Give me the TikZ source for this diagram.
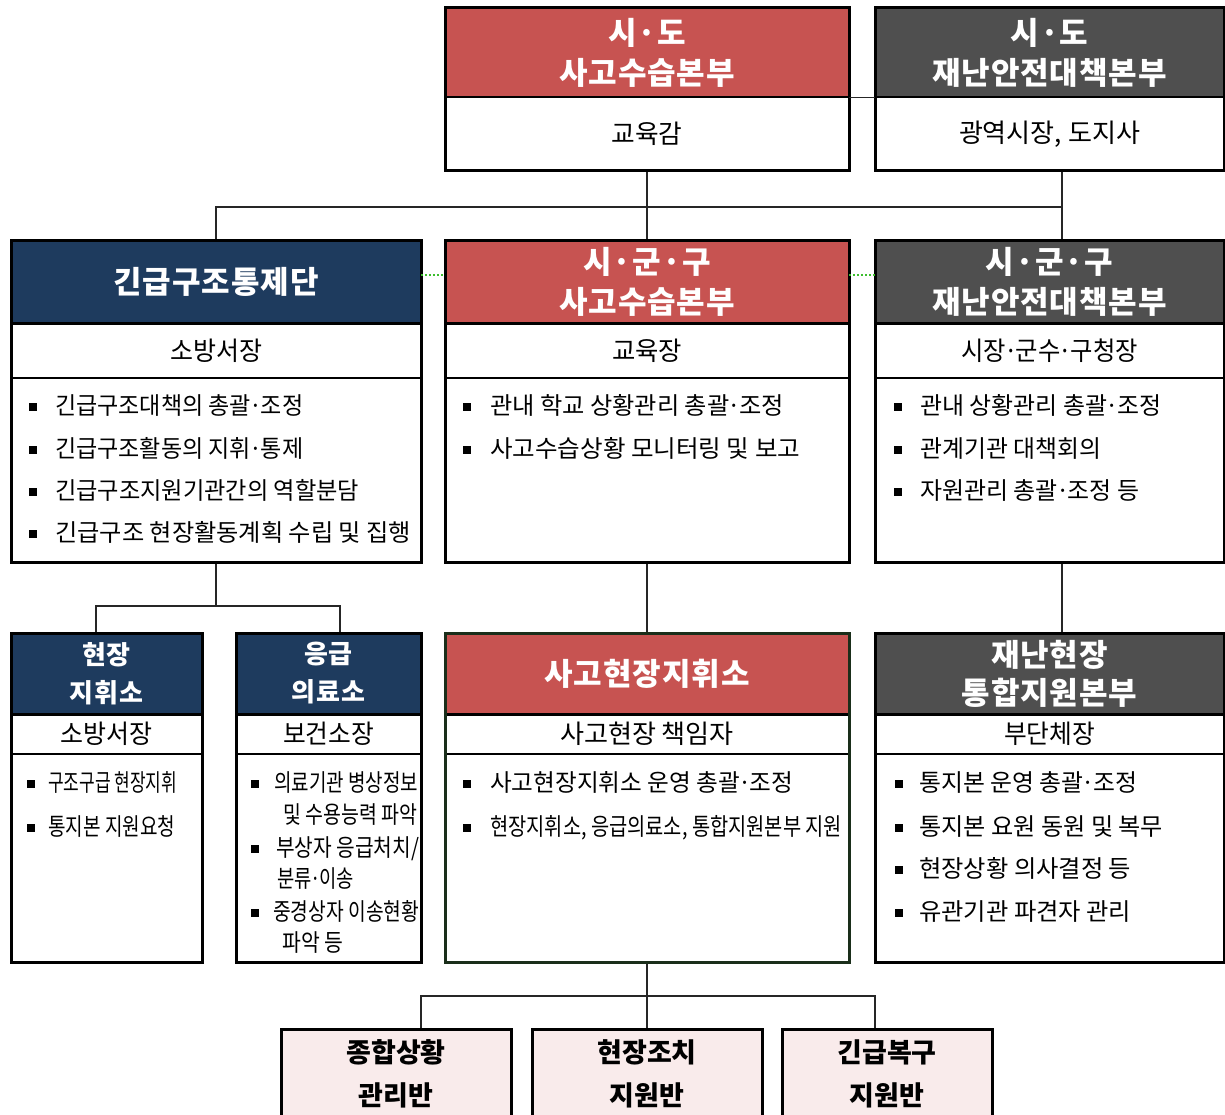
\documentclass[tikz,border=0pt]{standalone}
\usepackage{fontspec}
\usepackage{graphicx}
\newfontfamily\kr{Noto Sans CJK KR}
\newfontfamily\krh[LetterSpace=3]{Noto Sans CJK KR}
\definecolor{cred}{HTML}{C75351}
\definecolor{cgray}{HTML}{4F4F4F}
\definecolor{cnavy}{HTML}{1E3B5E}
\definecolor{cpink}{HTML}{F9EBEB}
\definecolor{cgreen}{HTML}{3DBE2E}
\definecolor{cdkgreen}{HTML}{1A2E1A}
\newcommand\tw[2]{\resizebox{#1pt}{\height}{#2}}
\newcommand\bsq{\rule[3pt]{8pt}{8pt}}
\newcommand\itm[3]{\bsq\hspace{#1pt}\tw{#2}{#3}}
\newcommand\md{\kern-0.07em·\kern-0.07em}
\begin{document}
\begin{tikzpicture}[x=1pt,y=-1pt,
  hd/.style={inner sep=0, text=white, font=\krh\bfseries\fontsize{31}{40}\selectfont, align=center},
  hdsm/.style={inner sep=0, text=white, font=\krh\bfseries\fontsize{26}{38}\selectfont, align=center},
  sub/.style={inner sep=0, font=\kr\fontsize{26}{30}\selectfont},
  itm/.style={inner sep=0, anchor=west, font=\kr\fontsize{24}{28}\selectfont, text height=21pt, text depth=3pt},
  frame/.style={draw=black, line width=3pt, inner sep=0},
  divA/.style={line width=2.6pt},
  divB/.style={line width=2pt},
  conn/.style={line width=1.2pt, draw=black!85},
  link/.style={draw=cgreen, line width=2.6pt, dash pattern=on 2.2pt off 1.8pt},
  lowbox/.style={draw=black, line width=3pt, fill=cpink, inner sep=0},
  lowtxt/.style={inner sep=0, font=\kr\bfseries\fontsize{27}{43}\selectfont, align=center}
]
\clip (0,0) rectangle (1225,1115);
\fill[white] (0,0) rectangle (1225,1115);

% ---------- top row ----------
\node[hd, fill=cred, minimum width=404pt, minimum height=89pt] (Ah) at (647,52.5) {시·도\\사고수습본부};
\node[sub] (Ab) at (647,134) {\tw{71}{교육감}};
\draw[divA] (Ah.south west) -- (Ah.south east);
\node[frame, minimum width=404pt, minimum height=163pt] (A) at (647,89.5) {};

\node[hd, fill=cgray, minimum width=349pt, minimum height=89pt] (Bh) at (1049.5,52.5) {시·도\\재난안전대책본부};
\node[sub] (Bb) at (1049.5,134) {\tw{181}{광역시장, 도지사}};
\draw[divA] (Bh.south west) -- (Bh.south east);
\node[frame, minimum width=349pt, minimum height=163pt] (B) at (1049.5,89.5) {};

% ---------- second row ----------
\node[hd, fill=cnavy, minimum width=410pt, minimum height=82pt] (Ch) at (216,282) {긴급구조통제단};
\node[sub] (Cb) at (216,350.5) {\tw{92}{소방서장}};
\draw[divA] (Ch.south west) -- (Ch.south east);
\draw[divB] (11,378) -- (421,378);
\node[itm] (c1) at (29,405) {\itm{18}{248}{긴급구조대책의 총괄\md 조정}};
\node[itm] (c2) at (29,448) {\itm{18}{248}{긴급구조활동의 지휘\md 통제}};
\node[itm] (c3) at (29,490) {\itm{18}{304}{긴급구조지원기관간의 역할분담}};
\node[itm] (c4) at (29,532) {\itm{18}{356}{긴급구조 현장활동계획 수립 및 집행}};
\node[frame, minimum width=410pt, minimum height=321pt] (C) at (216,401.5) {};

\node[hd, fill=cred, minimum width=404pt, minimum height=82pt] (Dh) at (647,282) {시·군·구\\사고수습본부};
\node[sub] (Db) at (647,350.5) {\tw{70}{교육장}};
\draw[divA] (Dh.south west) -- (Dh.south east);
\draw[divB] (445,378) -- (849,378);
\node[itm] (d1) at (463,405) {\itm{19}{294}{관내 학교 상황관리 총괄\md 조정}};
\node[itm] (d2) at (463,448) {\itm{19}{310}{사고수습상황 모니터링 및 보고}};
\node[frame, minimum width=404pt, minimum height=321pt] (D) at (647,401.5) {};

\node[hd, fill=cgray, minimum width=349pt, minimum height=82pt] (Eh) at (1049.5,282) {시·군·구\\재난안전대책본부};
\node[sub] (Eb) at (1049.5,351) {\tw{177}{시장\md 군수\md 구청장}};
\draw[divA] (Eh.south west) -- (Eh.south east);
\draw[divB] (875,378) -- (1224,378);
\node[itm] (e1) at (894,405) {\itm{18}{241}{관내 상황관리 총괄\md 조정}};
\node[itm] (e2) at (894,448) {\itm{18}{181}{관계기관 대책회의}};
\node[itm] (e3) at (894,490) {\itm{18}{219}{자원관리 총괄\md 조정 등}};
\node[frame, minimum width=349pt, minimum height=321pt] (E) at (1049.5,401.5) {};

% ---------- third row ----------
\node[hdsm, fill=cnavy, minimum width=191pt, minimum height=81pt] (Fh) at (106.5,673.5) {현장\\지휘소};
\node[sub] (Fb) at (106.5,734) {\tw{92}{소방서장}};
\draw[divA] (Fh.south west) -- (Fh.south east);
\draw[divB] (11,754) -- (202,754);
\node[itm] (f1) at (27,782) {\itm{13}{129}{구조구급 현장지휘}};
\node[itm] (f2) at (27,826) {\itm{13}{127}{통지본 지원요청}};
\node[frame, minimum width=191pt, minimum height=329pt] (F) at (106.5,797.5) {};

\node[hdsm, fill=cnavy, minimum width=185pt, minimum height=81pt] (Gh) at (328.5,673.5) {응급\\의료소};
\node[sub] (Gb) at (328.5,734) {\tw{91}{보건소장}};
\draw[divA] (Gh.south west) -- (Gh.south east);
\draw[divB] (236,754) -- (421,754);
\node[itm] (g1) at (251,782) {\itm{15}{144}{의료기관 병상정보}};
\node[itm] (g2) at (283,814) {\tw{134}{및 수용능력 파악}};
\node[itm] (g3) at (251,847) {\itm{17}{143}{부상자  응급처치/}};
\node[itm] (g4) at (277,878) {\tw{77}{분류\md 이송}};
\node[itm] (g5) at (251,911) {\itm{14}{146}{중경상자 이송현황}};
\node[itm] (g6) at (282,942) {\tw{61}{파악 등}};
\node[frame, minimum width=185pt, minimum height=329pt] (G) at (328.5,797.5) {};

\node[hd, fill=cred, minimum width=404pt, minimum height=81pt] (Hh) at (647,673.5) {사고현장지휘소};
\node[sub] (Hb) at (647,734) {\tw{174}{사고현장  책임자}};
\draw[divA] (Hh.south west) -- (Hh.south east);
\draw[divB] (445,754) -- (849,754);
\node[itm] (h1) at (463,782) {\itm{19}{303}{사고현장지휘소  운영  총괄\md 조정}};
\node[itm] (h2) at (463,826) {\itm{19}{352}{현장지휘소, 응급의료소, 통합지원본부 지원}};
\node[frame, draw=cdkgreen, minimum width=404pt, minimum height=329pt] (H) at (647,797.5) {};

\node[hd, fill=cgray, minimum width=349pt, minimum height=81pt, font=\krh\bfseries\fontsize{31}{38}\selectfont] (Ih) at (1049.5,673.5) {재난현장\\통합지원본부};
\node[sub] (Ib) at (1049.5,734) {\tw{91}{부단체장}};
\draw[divA] (Ih.south west) -- (Ih.south east);
\draw[divB] (875,754) -- (1224,754);
\node[itm] (i1) at (895,782) {\itm{16}{218}{통지본 운영 총괄\md 조정}};
\node[itm] (i2) at (895,826) {\itm{16}{244}{통지본 요원 동원 및 복무}};
\node[itm] (i3) at (895,868) {\itm{16}{212}{현장상황 의사결정 등}};
\node[itm] (i4) at (895,911) {\itm{16}{212}{유관기관 파견자 관리}};
\node[frame, minimum width=349pt, minimum height=329pt] (I) at (1049.5,797.5) {};

% ---------- fourth row ----------
\node[lowbox, minimum width=230pt, minimum height=96pt] (J) at (396,1077) {};
\node[lowtxt] (Jt) at (396,1073.5) {종합상황\\관리반};
\node[lowbox, minimum width=230pt, minimum height=96pt] (K) at (647,1077) {};
\node[lowtxt] (Kt) at (647,1073.5) {현장조치\\지원반};
\node[lowbox, minimum width=210pt, minimum height=96pt] (L) at (887,1077) {};
\node[lowtxt] (Lt) at (887,1073.5) {긴급복구\\지원반};

% ---------- connectors ----------
\draw[conn] (Ah.south east) -- (Bh.south west);
\coordinate (bus1) at (1062,207);
\draw[conn] (A.south) -- (D.north);
\draw[conn] ([xshift=12.5pt]B.south) -- ([xshift=12.5pt]E.north);
\draw[conn] (C.north) |- (bus1);
\draw[link] ([yshift=7pt]Ch.east) -- ([yshift=7pt]Dh.west);
\draw[link] ([yshift=7pt]Dh.east) -- ([yshift=7pt]Eh.west);

\coordinate (bus2) at (216,606);
\draw[conn] (C.south) -- (bus2);
\draw[conn] ([xshift=-10.5pt]F.north) |- (bus2) -| ([xshift=11.5pt]G.north);
\draw[conn] (D.south) -- (H.north);
\draw[conn] ([xshift=12.5pt]E.south) -- ([xshift=12.5pt]I.north);

\coordinate (bus3) at (647,996);
\draw[conn] (H.south) -- (K.north);
\draw[conn] ([xshift=25pt]J.north) |- (bus3) -| ([xshift=-12pt]L.north);
\end{tikzpicture}
\end{document}
